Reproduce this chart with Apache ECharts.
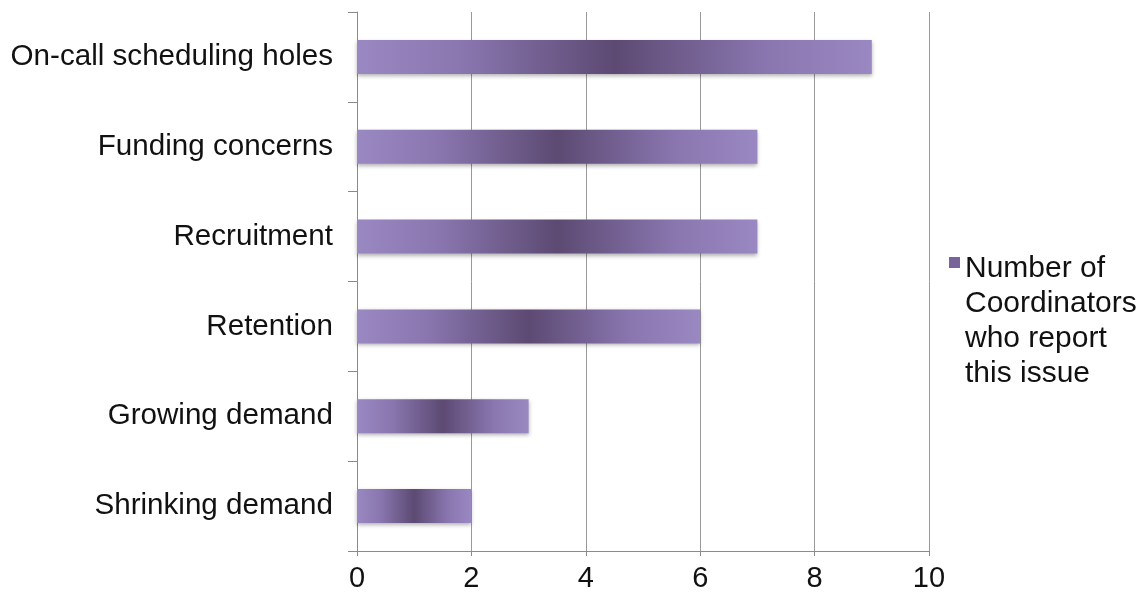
<!DOCTYPE html>
<html>
<head>
<meta charset="utf-8">
<script src="https://cdn.jsdelivr.net/npm/echarts@6/dist/echarts.min.js"></script>
<style>
    html, body { margin: 0; padding: 0; background: #fff; }
    #bar1 { width: 1139px; height: 602px; }
</style>
</head>
<body>
<div id="bar1"></div>
<script>
var categories = ['Shrinking demand', 'Growing demand', 'Retention', 'Recruitment', 'Funding concerns', 'On-call scheduling holes'];
var seriesValues = [2, 3, 6, 7, 7, 9];
var xTicks = [0, 2, 4, 6, 8, 10];
var seriesName = 'Number of\nCoordinators\nwho report\nthis issue';

var bar1 = echarts.init(document.getElementById('bar1'));

var barColor = {
    type: 'linear', x: 0, y: 0, x2: 1, y2: 0,
    colorStops: [
        {offset: 0, color: '#9a88c2'},
        {offset: 0.2, color: '#8a77b0'},
        {offset: 0.5, color: '#5c4a73'},
        {offset: 0.8, color: '#8a77b0'},
        {offset: 1, color: '#9a88c2'}
    ]
};

// tall legend marker: small square at the top, empty space below,
// so the square lines up with the first text line
var legendIcon = 'path://M0,0L0,0M0,6h11v11h-11zM0,140L0,140';

var bar1Opt = {
    animation: false,
    textStyle: {fontFamily: 'Liberation Sans, Arial, sans-serif'},
    grid: {left: 357, right: 210, top: 12, bottom: 51},
    legend: {
        orient: 'vertical',
        left: 949,
        top: 251,
        padding: 0,
        itemWidth: 11,
        itemHeight: 140,
        itemGap: 0,
        data: [{name: seriesName, icon: legendIcon, itemStyle: {color: '#76649b'}}],
        textStyle: {fontSize: 30, color: '#111', lineHeight: 35}
    },
    xAxis: {
        type: 'value',
        min: xTicks[0],
        max: xTicks[xTicks.length - 1],
        interval: 2,
        axisLine: {show: true, lineStyle: {color: '#8a8a8a', width: 1}},
        axisTick: {show: true, length: 5, lineStyle: {color: '#8a8a8a'}},
        axisLabel: {fontSize: 29, color: '#111', margin: 13},
        splitLine: {show: true, lineStyle: {color: '#9a9a9a', width: 1}}
    },
    yAxis: {
        type: 'category',
        data: categories,
        axisLine: {show: true, lineStyle: {color: '#8a8a8a', width: 1}},
        axisTick: {show: true, length: 9, lineStyle: {color: '#8a8a8a'}},
        axisLabel: {fontSize: 29.6, color: '#111', margin: 24},
        splitLine: {show: false}
    },
    series: [
        {
            name: seriesName,
            type: 'bar',
            data: seriesValues,
            barWidth: 34,
            itemStyle: {
                color: barColor,
                shadowBlur: 4,
                shadowOffsetY: 2,
                shadowColor: 'rgba(0, 0, 0, 0.3)'
            }
        }
    ]
};

bar1.setOption(bar1Opt);
</script>
</body>
</html>
